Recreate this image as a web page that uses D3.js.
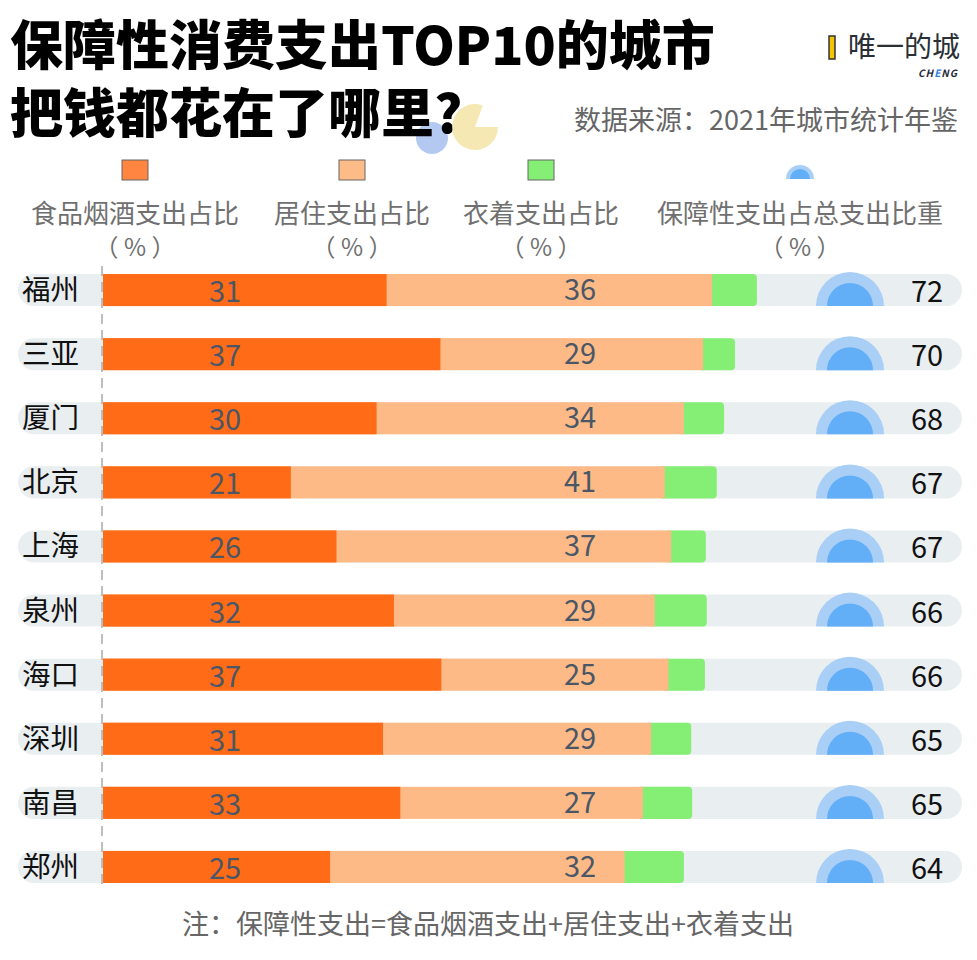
<!DOCTYPE html>
<html>
<head>
<meta charset="utf-8">
<script src="https://cdn.jsdelivr.net/npm/d3@7"></script>
<style>
body{ margin:0; background:#fff; }
text{ font-family:"Noto Sans CJK SC","Noto Sans",sans-serif; }
</style>
</head>
<body>
<div id="chart"></div>
<script>
var cities  = ['福州','三亚','厦门','北京','上海','泉州','海口','深圳','南昌','郑州'];
var food    = [31.1, 37.0, 30.0, 20.6, 25.6, 31.9, 37.1, 30.7, 32.6, 24.9];
var housing = [35.7, 28.8, 33.7, 41.0, 36.7, 28.6, 24.9, 29.4, 26.6, 32.3];
var clothes = [4.9, 3.5, 4.4, 5.7, 3.8, 5.7, 4.0, 4.4, 5.4, 6.5];
var totals  = [72, 70, 68, 67, 67, 66, 66, 65, 65, 64];
var legendNames = ['食品烟酒支出占比','居住支出占比','衣着支出占比','保障性支出占总支出比重'];

var W = 977, H = 960;
var svg = d3.select('#chart').append('svg').attr('width', W).attr('height', H);

var x = d3.scaleLinear().domain([0, 100]).range([103, 1015]);
var y = d3.scaleBand().domain(cities).range([258, 899]).paddingInner(0.5).paddingOuter(0.25);
var bw = y.bandwidth();

// title
svg.append('text').attr('x', 10).attr('y', 65).attr('font-size', 53).attr('font-weight', 900)
  .attr('fill', '#000').text('保障性消费支出TOP10的城市');
// decorative circles round the question mark
svg.append('circle').attr('cx', 432).attr('cy', 138).attr('r', 16).attr('fill', '#b4c9f2');
svg.append('text').attr('x', 10).attr('y', 133).attr('font-size', 53).attr('font-weight', 900)
  .attr('fill', '#000').text('把钱都花在了哪里?');
var pac = d3.arc().innerRadius(0).outerRadius(23).startAngle(Math.PI / 2).endAngle(Math.PI * 2 + 0.35);
svg.append('path').attr('d', pac).attr('transform', 'translate(475,127)')
  .attr('fill', '#f2e2a0').attr('opacity', 0.8);

// logo
svg.append('rect').attr('x', 829).attr('y', 36).attr('width', 6).attr('height', 23)
  .attr('fill', '#f2c500').attr('stroke', '#333').attr('stroke-width', 1.5);
svg.append('text').attr('x', 960).attr('y', 57).attr('text-anchor', 'end').attr('font-size', 28)
  .attr('fill', '#2a2f36').text('唯一的城');
var cheng = svg.append('text').attr('x', 958).attr('y', 77).attr('text-anchor', 'end')
  .attr('font-size', 10).attr('font-weight', 'bold').attr('font-style', 'italic').attr('fill', '#1f2a3a')
  .attr('letter-spacing', 1);
cheng.append('tspan').text('CH');
cheng.append('tspan').attr('fill', '#2f7de1').text('E');
cheng.append('tspan').text('NG');

svg.append('text').attr('x', 958).attr('y', 130).attr('text-anchor', 'end').attr('font-size', 27)
  .attr('fill', '#666').text('数据来源：2021年城市统计年鉴');

// legend
var legX = [135, 352, 541, 800];
var legColors = ['#ff8540', '#fdbb88', '#84ef74'];
legColors.forEach(function(c, i){
  svg.append('rect').attr('x', legX[i] - 13).attr('y', 160).attr('width', 26).attr('height', 20)
    .attr('fill', c).attr('stroke', '#666').attr('stroke-width', 1);
});
svg.append('path').attr('d', d3.arc().innerRadius(0).outerRadius(14).startAngle(-Math.PI/2).endAngle(Math.PI/2))
  .attr('transform', 'translate(' + legX[3] + ',179)').attr('fill', '#a9cff6');
svg.append('path').attr('d', d3.arc().innerRadius(0).outerRadius(10).startAngle(-Math.PI/2).endAngle(Math.PI/2))
  .attr('transform', 'translate(' + legX[3] + ',179)').attr('fill', '#62aff8');
legendNames.forEach(function(n, i){
  svg.append('text').attr('x', legX[i]).attr('y', 223).attr('text-anchor', 'middle')
    .attr('font-size', 26).attr('fill', '#707070').text(n);
  svg.append('text').attr('x', legX[i]).attr('y', 256).attr('text-anchor', 'middle')
    .attr('font-size', 24).attr('fill', '#707070').attr('xml:space', 'preserve').text('（ % ）');
});

// rows
var rows = svg.selectAll('g.row').data(cities).enter().append('g').attr('class', 'row')
  .attr('transform', function(d){ return 'translate(0,' + y(d) + ')'; });

rows.append('rect').attr('x', 18).attr('y', 0).attr('width', 944).attr('height', bw)
  .attr('rx', bw / 2).attr('fill', '#e9eef0');

rows.append('text').attr('x', 22).attr('y', bw / 2 + 10).attr('font-size', 28.5).attr('fill', '#111')
  .text(function(d){ return d; });

// clothing (drawn first with round end, then food/housing on top)
rows.append('rect')
  .attr('x', function(d, i){ return x(food[i] + housing[i]) - 6; })
  .attr('width', function(d, i){ return x(clothes[i]) - x(0) + 6; })
  .attr('height', bw).attr('rx', 4).attr('fill', '#84ef74');
rows.append('rect').attr('x', x(0))
  .attr('width', function(d, i){ return x(food[i] + housing[i]) - x(0); })
  .attr('height', bw).attr('fill', '#fdba86');
rows.append('rect').attr('x', x(0))
  .attr('width', function(d, i){ return x(food[i]) - x(0); })
  .attr('height', bw).attr('fill', '#ff6b17');

rows.append('text').attr('x', 225).attr('y', bw / 2 + 12).attr('text-anchor', 'middle')
  .attr('font-size', 29).attr('fill', '#4a5766').attr('font-family', 'Open Sans')
  .text(function(d, i){ return Math.round(food[i]); });
rows.append('text').attr('x', 580).attr('y', bw / 2 + 10).attr('text-anchor', 'middle')
  .attr('font-size', 29).attr('fill', '#4a5766').attr('font-family', 'Open Sans')
  .text(function(d, i){ return Math.round(housing[i]); });

// semicircle icons
var outer = d3.arc().innerRadius(0).outerRadius(34).startAngle(-Math.PI/2).endAngle(Math.PI/2);
var inner = d3.arc().innerRadius(0).outerRadius(23).startAngle(-Math.PI/2).endAngle(Math.PI/2);
rows.append('path').attr('d', outer).attr('transform', 'translate(850,' + bw + ')').attr('fill', '#a9cff6');
rows.append('path').attr('d', inner).attr('transform', 'translate(850,' + bw + ')').attr('fill', '#62aff8');

rows.append('text').attr('x', 927).attr('y', bw / 2 + 12).attr('text-anchor', 'middle')
  .attr('font-size', 29).attr('fill', '#111').attr('font-family', 'Open Sans')
  .text(function(d, i){ return totals[i]; });

// dashed baseline
svg.append('line').attr('x1', 102).attr('x2', 102).attr('y1', 266).attr('y2', 890)
  .attr('stroke', '#aaa').attr('stroke-width', 1.5).attr('stroke-dasharray', '10,6');

svg.append('text').attr('x', 488).attr('y', 934).attr('text-anchor', 'middle').attr('font-size', 27)
  .attr('fill', '#666').text('注：保障性支出=食品烟酒支出+居住支出+衣着支出');
</script>
</body>
</html>
